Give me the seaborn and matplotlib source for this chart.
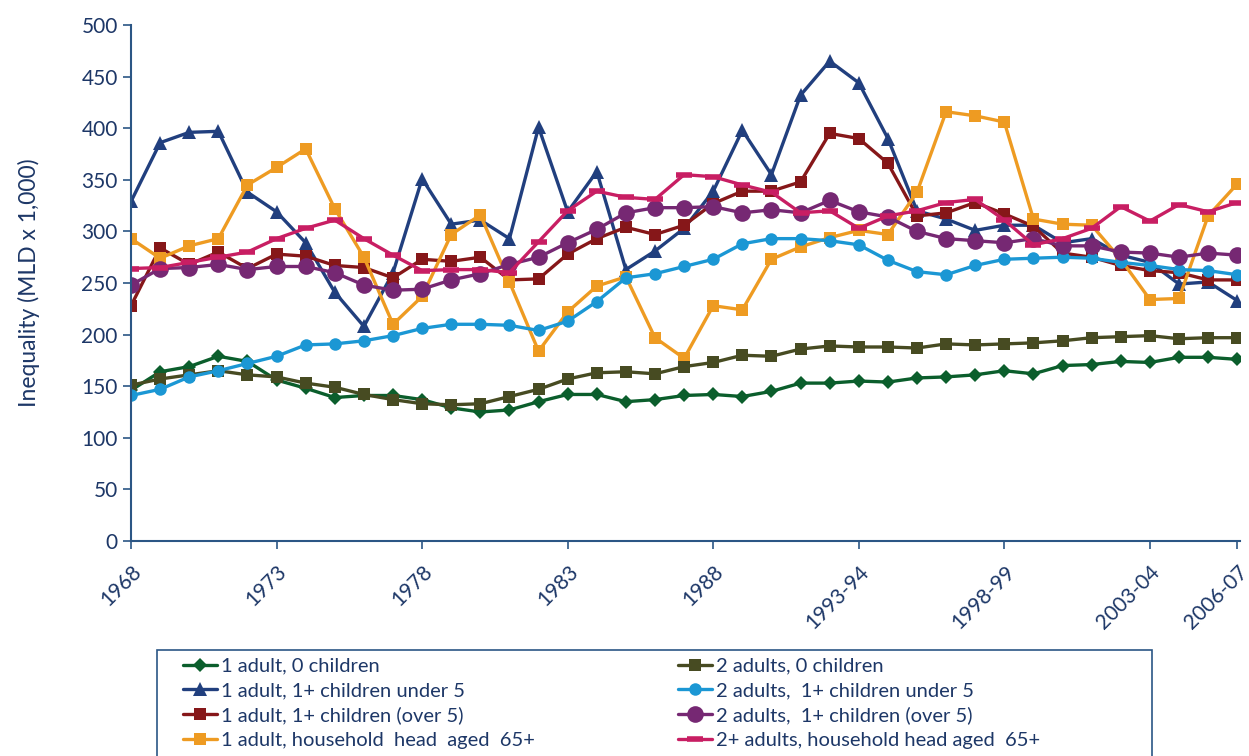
import matplotlib
matplotlib.use("Agg")
import matplotlib.pyplot as plt
from matplotlib.patches import Rectangle
import seaborn as sns
import pandas as pd

years = [str(y) for y in range(1968, 1993)] + \
    ["%d-%02d" % (y, (y + 1) % 100) for y in range(1993, 2007)]

one_adult_no_kids = [146, 164, 169, 179, 174, 156, 148, 139, 141, 141, 137, 129, 125,
                     127, 135, 142, 142, 135, 137, 141, 142, 140, 145, 153, 153,
                     155, 154, 158, 159, 161, 165, 162, 170, 171, 174, 173, 178, 178, 176]
two_adults_no_kids = [151, 157, 161, 165, 161, 159, 153, 149, 142, 137, 133, 132, 133,
                      140, 147, 157, 163, 164, 162, 169, 173, 180, 179, 186, 189,
                      188, 188, 187, 191, 190, 191, 192, 194, 197, 198, 199, 196, 197, 197]
one_adult_under5 = [329, 386, 396, 397, 338, 319, 289, 241, 208, 260, 351, 307, 311,
                    293, 401, 319, 358, 263, 281, 303, 339, 398, 355, 432, 465,
                    444, 390, 320, 312, 301, 306, 306, 289, 293, 277, 270, 249, 251, 233]
two_adults_under5 = [141, 147, 159, 165, 172, 179, 190, 191, 194, 199, 206, 210, 210,
                     209, 204, 213, 232, 255, 259, 266, 273, 288, 293, 293, 291,
                     287, 272, 261, 258, 267, 273, 274, 275, 274, 270, 267, 263, 262, 258]
one_adult_over5 = [228, 284, 268, 280, 264, 278, 276, 267, 265, 255, 273, 271, 275,
                   253, 254, 278, 293, 304, 297, 306, 327, 339, 339, 348, 395,
                   390, 366, 315, 318, 328, 317, 305, 279, 275, 267, 262, 260, 253, 253]
two_adults_over5 = [248, 264, 265, 268, 263, 266, 266, 260, 248, 243, 244, 253, 259,
                    268, 275, 289, 302, 318, 323, 323, 324, 318, 321, 318, 330,
                    319, 314, 300, 293, 291, 289, 293, 286, 286, 280, 279, 275, 279, 277]
one_adult_65 = [293, 274, 286, 293, 345, 362, 380, 322, 275, 210, 237, 297, 316,
                251, 184, 222, 247, 256, 197, 177, 228, 224, 273, 285, 294,
                301, 297, 338, 416, 412, 406, 312, 307, 306, 273, 234, 235, 315, 346]
two_adults_65 = [264, 265, 270, 275, 280, 293, 303, 311, 293, 277, 262, 263, 263,
                 260, 290, 320, 339, 333, 331, 355, 353, 345, 338, 318, 320,
                 303, 315, 320, 328, 331, 311, 287, 293, 303, 324, 310, 326, 319, 328]

series = [
    ("1 adult, 0 children", one_adult_no_kids, "#0b5e2c", "D", 7),
    ("1 adult, 1+ children under 5", one_adult_under5, "#213f7e", "^", 10),
    ("1 adult, 1+ children (over 5)", one_adult_over5, "#861719", "s", 9),
    ("1 adult, household  head  aged  65+", one_adult_65, "#ee9b22", "s", 9),
    ("2 adults, 0 children", two_adults_no_kids, "#474b22", "s", 9),
    ("2 adults,  1+ children under 5", two_adults_under5, "#1b97d4", "o", 9),
    ("2 adults,  1+ children (over 5)", two_adults_over5, "#762873", "o", 12),
    ("2+ adults, household head aged  65+", two_adults_65, "#c81e63", "_", 11),
]

sns.set_style("white")
plt.rcParams["font.family"] = ["Lato", "DejaVu Sans"]
text_col = "#1d3767"
axis_col = "#2b5685"

fig = plt.figure(figsize=(12.49, 7.56), dpi=100)
ax = fig.add_axes([0.1049, 0.2844, 0.888, 0.6825])

idx = list(range(len(years)))
for label, vals, col, mk, ms in series:
    df = pd.DataFrame({"idx": idx, "val": vals})
    kw = dict(markeredgewidth=0)
    if mk == "_":
        kw = dict(markeredgewidth=4, markeredgecolor=col)
    sns.lineplot(data=df, x="idx", y="val", ax=ax, color=col, marker=mk,
                 markersize=ms, linewidth=2.4, label=label, **kw)

ax.set_ylim(0, 500)
ax.set_xlim(0, 38.1)
ax.set_yticks(range(0, 501, 50))
tick_pos = [0, 5, 10, 15, 20, 25, 30, 35, 38]
ax.set_xticks(tick_pos)
ax.set_xticklabels([years[i] for i in tick_pos], rotation=45, ha="right",
                   rotation_mode="anchor")
ax.set_xlabel("")
ax.set_ylabel("Inequality (MLD x 1,000)", fontsize=16.5, color=text_col, labelpad=30)

for s in ["top", "right"]:
    ax.spines[s].set_visible(False)
for s in ["left", "bottom"]:
    ax.spines[s].set_color(axis_col)
    ax.spines[s].set_linewidth(1.5)
ax.tick_params(axis="both", colors=axis_col, labelcolor=text_col, labelsize=15,
               length=6, width=1.2, direction="out", left=True, bottom=True)
ax.tick_params(axis="x", pad=9)

# legend: frameless, with a separate box that runs off the bottom edge
ax.get_legend().remove()
handles, labels = ax.get_legend_handles_labels()
leg = fig.legend(handles, labels, loc="upper left", bbox_to_anchor=(0.1465, 0.13),
                 ncol=2, fontsize=14.5, frameon=False,
                 handlelength=1.7, handletextpad=0.2,
                 labelspacing=0.36, columnspacing=7.1, borderpad=0,
                 borderaxespad=0)
for t in leg.get_texts():
    t.set_color(text_col)
fig.patches.append(Rectangle((157 / 1249, -0.02), (1152 - 157) / 1249, 0.02 + 1 - 650 / 756,
                             transform=fig.transFigure, fill=False,
                             edgecolor=axis_col, linewidth=1.2))

fig.savefig("out.png", dpi=100)
